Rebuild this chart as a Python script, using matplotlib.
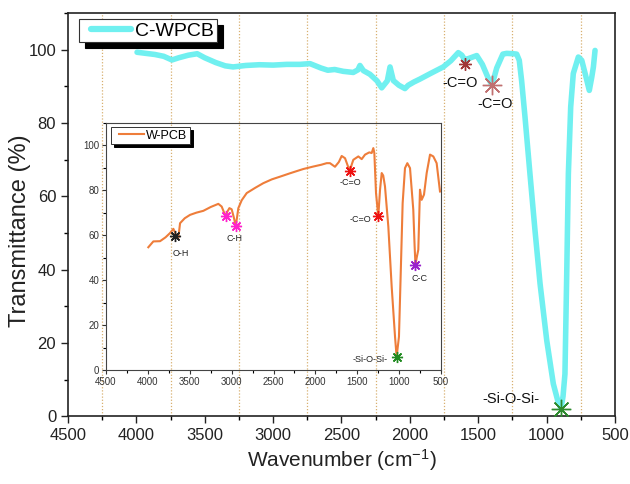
import matplotlib
matplotlib.use("Agg")
import matplotlib.pyplot as plt
from matplotlib.ticker import MultipleLocator
from matplotlib.lines import Line2D
from matplotlib.legend_handler import HandlerLine2D

plt.rcParams['font.family'] = ['Liberation Sans', 'DejaVu Sans']
plt.rcParams['mathtext.default'] = 'regular'

# ---------------- data ----------------
cwpcb_wn = [3995, 3930, 3865, 3800, 3740, 3690, 3620, 3555, 3500, 3420, 3350, 3293,
            3200, 3100, 3000, 2900, 2804, 2730, 2650, 2600, 2550, 2487, 2414, 2380,
            2365, 2340, 2292, 2240, 2206, 2165, 2145, 2121, 2080, 2036, 2012, 1970,
            1926, 1850, 1756, 1700, 1646, 1620, 1600, 1570, 1511, 1470, 1430, 1400,
            1365, 1320, 1292, 1246, 1219, 1200, 1183, 1158, 1122, 1085, 1048, 999,
            951, 920, 895, 880, 866, 853, 841, 824, 805, 768, 743, 715, 688, 670,
            658, 646]
cwpcb_t = [99.3, 99.0, 98.7, 98.2, 97.2, 97.8, 98.5, 98.9, 97.8, 96.5, 95.6, 95.3,
           95.7, 95.9, 95.8, 96.0, 96.0, 96.2, 95.0, 94.4, 94.6, 94.1, 93.8, 94.5,
           95.7, 94.3, 93.3, 91.5, 89.6, 91.5, 95.3, 91.6, 90.3, 89.4, 90.3, 91.2,
           92.0, 93.5, 95.3, 97.0, 99.2, 98.5, 97.3, 97.6, 98.4, 96.0, 92.5, 90.3,
           95.0, 98.8, 99.0, 98.9, 98.8, 97.1, 91.6, 81.6, 66.2, 50.7, 36.2, 20.7,
           8.9, 4.5, 2.1, 5.5, 11.6, 38.9, 66.2, 84.4, 93.5, 98.0, 97.1, 93.0,
           88.9, 92.5, 95.3, 99.8]

wpcb_wn = [3995, 3935, 3855, 3790, 3736, 3696, 3664, 3637, 3616, 3560, 3497, 3420,
           3338, 3250, 3159, 3119, 3090, 3071, 3050, 3027, 3000, 2975, 2951, 2935,
           2920, 2880, 2820, 2720, 2622, 2520, 2422, 2303, 2220, 2144, 2025, 1930,
           1865, 1826, 1766, 1720, 1686, 1646, 1610, 1587, 1565, 1547, 1487, 1447,
           1407, 1356, 1328, 1308, 1296, 1276, 1249, 1228, 1208, 1190, 1169, 1129,
           1089, 1049, 1030, 1002, 982, 958, 930, 902, 870, 831, 815, 805, 790,
           771, 751, 731, 703, 671, 631, 592, 552, 512]
wpcb_t = [54.6, 57.2, 57.3, 59.0, 60.9, 62.8, 60.1, 58.6, 65.3, 67.5, 69.0, 70.0,
          70.8, 72.5, 73.9, 72.7, 70.0, 68.3, 70.5, 72.0, 71.5, 68.0, 64.1, 68.0,
          72.0, 75.5, 78.7, 81.0, 83.1, 84.8, 86.0, 87.5, 88.5, 89.4, 90.5, 91.3,
          92.0, 92.0, 90.4, 92.5, 95.2, 94.2, 90.5, 88.6, 91.5, 93.5, 95.0, 93.8,
          95.8, 96.8, 96.5, 98.7, 96.5, 78.7, 68.3, 80.2, 87.6, 86.5, 81.7, 63.8,
          37.1, 14.8, 5.9, 14.8, 41.6, 74.2, 89.8, 92.0, 89.8, 71.3, 55.0, 46.8,
          50.0, 53.5, 80.2, 75.7, 78.0, 87.6, 95.8, 95.0, 92.0, 79.4]

# main peak markers
main_peak_wn = [1597, 1400, 895]
main_peak_t = [96.2, 90.4, 2.1]
main_peak_labels = ['-C=O', '-C=O', '-Si-O-Si-']
main_label_wn = [1630, 1378, 1262]
main_label_t = [90.8, 85.1, 4.9]

inset_peak_wn = [3676, 3071, 2951, 1587, 1249, 1030, 805]
inset_peak_t = [59.7, 68.3, 64.1, 88.6, 68.3, 5.9, 46.8]
inset_labels = ['O-H', 'C-H', '-C=O', '-C=O', '-Si-O-Si-', 'C-C']
inset_label_wn = [3604, 2960, 1587, 1467, 1348, 759]
inset_label_t = [51.7, 58.4, 83.4, 66.8, 4.8, 40.8]

grid_wn = [4250, 3750, 3250, 2750, 2250, 1750, 1250, 750]

# ---------------- figure ----------------
fig = plt.figure(figsize=(6.30, 4.84), dpi=100)
ax = fig.add_axes([0.1079, 0.1395, 0.8683, 0.8336])

for g in grid_wn:
    ax.axvline(g, color='#D8B070', lw=0.9, ls=(0, (1, 1.5)), zorder=0)

ax.plot(cwpcb_wn, cwpcb_t, color='#70F0F0', lw=4.0, label='C-WPCB',
        solid_capstyle='round', solid_joinstyle='round', zorder=2)

main_cols = ['#A03838', '#C07070', '#2E8B2E']
main_sizes = [9, 14, 14]
for w, t, c, s in zip(main_peak_wn, main_peak_t, main_cols, main_sizes):
    ax.plot([w], [t], marker=(8, 2, 0), ms=s, mec=c, mew=1.0, ls='none', zorder=4)
    ax.plot([w], [t], marker='o', ms=2.5, mfc=c, mec=c, ls='none', zorder=4)
for lab, w, t in zip(main_peak_labels, main_label_wn, main_label_t):
    ax.text(w, t, lab, fontsize=10.5, ha='center', va='center', color='#111111')

ax.set_xlim(4500, 500)
ax.set_ylim(0, 110)
ax.xaxis.set_major_locator(MultipleLocator(500))
ax.xaxis.set_minor_locator(MultipleLocator(250))
ax.yaxis.set_major_locator(MultipleLocator(20))
ax.yaxis.set_minor_locator(MultipleLocator(10))
ax.tick_params(axis='both', which='major', direction='out', length=5, width=1.0,
               labelsize=12, colors='#222222')
ax.tick_params(axis='both', which='minor', direction='out', length=3, width=1.0)
ax.tick_params(top=False, right=False, which='both')
for sp in ax.spines.values():
    sp.set_linewidth(1.2)
    sp.set_color('#222222')
ax.set_xlabel('Wavenumber (cm$^{-1}$)', fontsize=15, labelpad=3, color='#222222')
ax.set_ylabel('Transmittance (%)', fontsize=17, color='#222222')
ax.yaxis.set_label_coords(-0.068, 0.46)

leg = ax.legend(loc='upper left', bbox_to_anchor=(79 / 630, 1 - 19 / 484),
                bbox_transform=fig.transFigure, borderaxespad=0, fontsize=14,
                fancybox=False, edgecolor='#333333', framealpha=1,
                handlelength=2.5, handletextpad=0.25, borderpad=0.15,
                handler_map={Line2D: HandlerLine2D(xpad=0.45)},
                shadow={'ox': 4, 'oy': -4, 'facecolor': 'black', 'edgecolor': 'black', 'alpha': 1})
leg.get_frame().set_linewidth(0.8)
for line in leg.get_lines():
    line.set_linewidth(4.5)

# ---------------- inset ----------------
ins = fig.add_axes([0.1683, 0.2355, 0.5317, 0.511])
ins.set_facecolor('none')
ins.plot(wpcb_wn, wpcb_t, color='#EE7D3A', lw=1.5, label='W-PCB', zorder=2)

inset_cols = ['#222222', '#FF22CC', '#FF22CC', '#EE1111', '#EE1111', '#228B22', '#9922CC']
for w, t, c in zip(inset_peak_wn, inset_peak_t, inset_cols):
    ins.plot([w], [t], marker=(8, 2, 0), ms=8, mec=c, mew=1.0, ls='none', zorder=4)
    ins.plot([w], [t], marker='o', ms=2, mfc=c, mec=c, ls='none', zorder=4)
for lab, w, t in zip(inset_labels, inset_label_wn, inset_label_t):
    ins.text(w, t, lab, fontsize=6.5, ha='center', va='center', color='#222222')

ins.set_xlim(4500, 500)
ins.set_ylim(0, 110)
ins.xaxis.set_major_locator(MultipleLocator(500))
ins.xaxis.set_minor_locator(MultipleLocator(250))
ins.yaxis.set_major_locator(MultipleLocator(20))
ins.yaxis.set_minor_locator(MultipleLocator(10))
ins.tick_params(axis='both', which='major', direction='out', length=3, width=0.8,
                labelsize=7, colors='#333333', pad=2)
ins.tick_params(axis='both', which='minor', direction='out', length=2, width=0.8)
ins.tick_params(top=False, right=False, which='both')
for sp in ins.spines.values():
    sp.set_linewidth(0.8)
    sp.set_color('#444444')

ileg = ins.legend(loc='upper left', bbox_to_anchor=(111 / 630, 1 - 127 / 484),
                  bbox_transform=fig.transFigure, borderaxespad=0, fontsize=9,
                  fancybox=False, edgecolor='#333333', framealpha=1,
                  handlelength=2.4, handletextpad=0.2, borderpad=0.2,
                  handler_map={Line2D: HandlerLine2D(xpad=0.4)},
                  shadow={'ox': 2.5, 'oy': -2.5, 'facecolor': 'black', 'edgecolor': 'black', 'alpha': 1})
ileg.get_frame().set_linewidth(0.7)

fig.savefig('out.png', dpi=100)
